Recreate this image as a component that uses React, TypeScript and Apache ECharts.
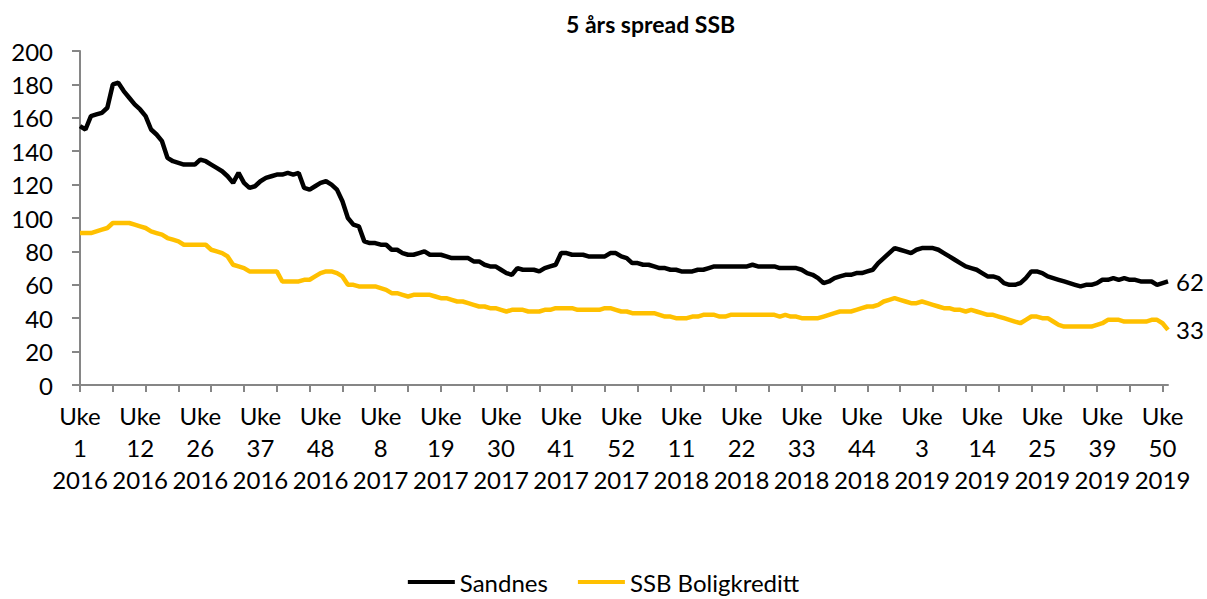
import React, { useEffect, useRef } from "react";
import * as echarts from "echarts";

const tickLabels = [
  "Uke\n1\n2016", "Uke\n12\n2016", "Uke\n26\n2016", "Uke\n37\n2016", "Uke\n48\n2016",
  "Uke\n8\n2017", "Uke\n19\n2017", "Uke\n30\n2017", "Uke\n41\n2017", "Uke\n52\n2017",
  "Uke\n11\n2018", "Uke\n22\n2018", "Uke\n33\n2018", "Uke\n44\n2018", "Uke\n3\n2019",
  "Uke\n14\n2019", "Uke\n25\n2019", "Uke\n39\n2019", "Uke\n50\n2019",
];

const sandnes = [
  155, 153, 161, 162, 163, 166, 180, 181, 176, 172, 168, 165, 161, 153, 150, 146, 136, 134, 133, 132,
  132, 132, 135, 134, 132, 130, 128, 125, 121, 127, 121, 118, 119, 122, 124, 125, 126, 126, 127, 126,
  127, 118, 117, 119, 121, 122, 120, 117, 110, 100, 96, 95, 86, 85, 85, 84, 84, 81, 81, 79,
  78, 78, 79, 80, 78, 78, 78, 77, 76, 76, 76, 76, 74, 74, 72, 71, 71, 69, 67, 66,
  70, 69, 69, 69, 68, 70, 71, 72, 79, 79, 78, 78, 78, 77, 77, 77, 77, 79, 79, 77,
  76, 73, 73, 72, 72, 71, 70, 70, 69, 69, 68, 68, 68, 69, 69, 70, 71, 71, 71, 71,
  71, 71, 71, 72, 71, 71, 71, 71, 70, 70, 70, 70, 69, 67, 66, 64, 61, 62, 64, 65,
  66, 66, 67, 67, 68, 69, 73, 76, 79, 82, 81, 80, 79, 81, 82, 82, 82, 81, 79, 77,
  75, 73, 71, 70, 69, 67, 65, 65, 64, 61, 60, 60, 61, 64, 68, 68, 67, 65, 64, 63,
  62, 61, 60, 59, 60, 60, 61, 63, 63, 64, 63, 64, 63, 63, 62, 62, 62, 60, 61, 62,
];

const ssb = [
  91, 91, 91, 92, 93, 94, 97, 97, 97, 97, 96, 95, 94, 92, 91, 90, 88, 87, 86, 84,
  84, 84, 84, 84, 81, 80, 79, 77, 72, 71, 70, 68, 68, 68, 68, 68, 68, 62, 62, 62,
  62, 63, 63, 65, 67, 68, 68, 67, 65, 60, 60, 59, 59, 59, 59, 58, 57, 55, 55, 54,
  53, 54, 54, 54, 54, 53, 52, 52, 51, 50, 50, 49, 48, 47, 47, 46, 46, 45, 44, 45,
  45, 45, 44, 44, 44, 45, 45, 46, 46, 46, 46, 45, 45, 45, 45, 45, 46, 46, 45, 44,
  44, 43, 43, 43, 43, 43, 42, 41, 41, 40, 40, 40, 41, 41, 42, 42, 42, 41, 41, 42,
  42, 42, 42, 42, 42, 42, 42, 42, 41, 42, 41, 41, 40, 40, 40, 40, 41, 42, 43, 44,
  44, 44, 45, 46, 47, 47, 48, 50, 51, 52, 51, 50, 49, 49, 50, 49, 48, 47, 46, 46,
  45, 45, 44, 45, 44, 43, 42, 42, 41, 40, 39, 38, 37, 39, 41, 41, 40, 40, 38, 36,
  35, 35, 35, 35, 35, 35, 36, 37, 39, 39, 39, 38, 38, 38, 38, 38, 39, 39, 37, 33,
];

const seriesNames = ["Sandnes", "SSB Boligkreditt"];
const labelEvery = 11;
const tickEvery = 6;

const categories = sandnes.map((_, i) => String(i));

export default function App() {
  const ref = useRef<HTMLDivElement>(null);
  useEffect(() => {
    if (!ref.current) return;
    const chart = echarts.init(ref.current, null, { renderer: "svg" });
    const font = "Lato";
    chart.setOption({
      animation: false,
      backgroundColor: "#ffffff",
      title: {
        text: "5 års spread SSB",
        left: 561,
        top: 7,
        textStyle: { fontFamily: font, fontWeight: "bold", fontSize: 23, color: "#000" },
      },
      legend: {
        bottom: 0,
        left: "center",
        itemWidth: 47,
        itemHeight: 4,
        itemGap: 30,
        icon: "rect",
        textStyle: { fontFamily: font, fontSize: 24, color: "#000" },
        data: seriesNames,
      },
      grid: { left: 80, right: 39, top: 51, bottom: 214, containLabel: false },
      xAxis: {
        type: "category",
        data: categories,
        boundaryGap: false,
        axisLine: { lineStyle: { color: "#868686", width: 2 } },
        axisTick: {
          interval: tickEvery - 1,
          length: 7,
          lineStyle: { color: "#868686", width: 2 },
        },
        axisLabel: {
          interval: labelEvery - 1,
          formatter: (_v: string, idx: number) => tickLabels[Math.round(idx / labelEvery)] ?? "",
          fontFamily: font,
          fontSize: 24,
          lineHeight: 32,
          color: "#000",
          margin: 14,
        },
      },
      yAxis: {
        type: "value",
        min: 0,
        max: 200,
        interval: 20,
        splitLine: { show: false },
        axisLine: { show: true, lineStyle: { color: "#868686", width: 2 } },
        axisTick: { show: true, length: 8, lineStyle: { color: "#868686", width: 2 } },
        axisLabel: { fontFamily: font, fontSize: 24, color: "#000", margin: 27 },
      },
      series: [
        {
          name: seriesNames[0],
          type: "line",
          data: sandnes,
          symbol: "none",
          lineStyle: { color: "#000000", width: 4.5 },
          itemStyle: { color: "#000000" },
          endLabel: {
            show: true,
            formatter: "{c}",
            fontFamily: font,
            fontSize: 24,
            color: "#000",
            distance: 8,
          },
        },
        {
          name: seriesNames[1],
          type: "line",
          data: ssb,
          symbol: "none",
          lineStyle: { color: "#FFC000", width: 4.5 },
          itemStyle: { color: "#FFC000" },
          endLabel: {
            show: true,
            formatter: "{c}",
            fontFamily: font,
            fontSize: 24,
            color: "#000",
            distance: 8,
          },
        },
      ],
    });
    return () => chart.dispose();
  }, []);
  return (
    <div
      ref={ref}
      style={{ position: "fixed", left: 0, top: 0, width: 1207, height: 599 }}
    />
  );
}
